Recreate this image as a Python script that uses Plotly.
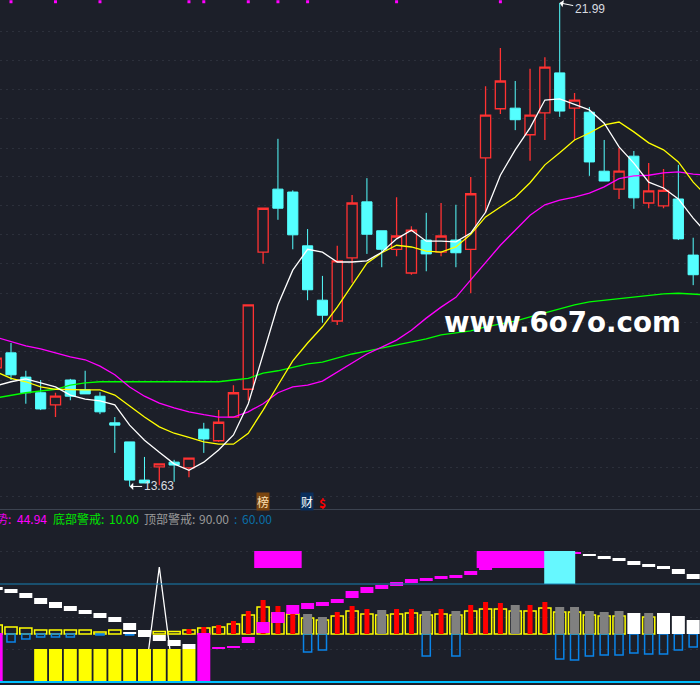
import plotly.graph_objects as go

# main panel: candles, index -1 is only just visible at the left edge
candle_idx = list(range(-1, 47))
opens = [15.68, 15.94, 15.52, 15.25, 15.04, 15.47, 15.30, 15.19, 14.73, 14.40, 13.74, 13.97, 14.05, 13.95, 14.62, 14.42,
         14.83, 15.31, 17.68, 18.77, 18.72, 17.79, 16.85, 16.49, 17.58, 18.55, 18.05, 17.73, 17.32, 17.89, 17.68, 17.89,
         17.73, 19.31, 20.16, 20.17, 19.71, 20.09, 20.78, 20.17, 20.10, 19.08, 18.77, 19.34, 18.53, 18.48, 18.60, 17.63]
closes = [15.85, 15.56, 15.25, 14.97, 15.19, 15.19, 15.23, 14.92, 14.69, 13.74, 13.69, 14.02, 14.00, 14.12, 14.45, 14.74,
          15.25, 16.77, 18.44, 18.44, 17.98, 17.03, 16.59, 17.53, 18.53, 17.99, 17.73, 17.96, 18.06, 17.65, 17.96, 17.67,
          18.69, 20.05, 20.64, 19.97, 20.05, 20.88, 20.12, 20.31, 19.24, 18.91, 19.08, 18.62, 18.74, 18.75, 17.91, 17.29]
highs = [15.85, 16.11, 15.63, 15.47, 15.25, 15.49, 15.63, 15.26, 14.83, 14.40, 14.14, 14.02, 14.09, 14.12, 14.73, 14.95,
         15.38, 16.77, 18.44, 19.64, 18.75, 18.08, 17.27, 17.79, 18.67, 18.96, 18.05, 18.63, 18.13, 18.36, 18.53, 18.50,
         18.98, 20.55, 21.21, 20.64, 20.85, 21.05, 21.99, 20.43, 20.19, 19.62, 19.48, 19.43, 19.22, 19.12, 19.19, 17.93]
lows = [15.68, 15.47, 15.06, 14.95, 14.83, 15.12, 15.23, 14.88, 14.21, 13.63, 13.69, 13.65, 13.71, 13.79, 14.21, 14.40,
        14.83, 15.12, 17.48, 18.24, 17.73, 16.85, 16.46, 16.42, 17.15, 17.65, 17.42, 17.61, 17.29, 17.35, 17.61, 17.42,
        16.97, 18.36, 20.07, 19.79, 19.26, 19.62, 20.02, 19.62, 19.00, 18.91, 18.60, 18.43, 18.44, 18.44, 17.89, 17.11]

# moving averages, one point more than the candles so they run off the right edge
ma_idx = list(range(-1, 48))
ma5 = [15.37, 15.44, 15.49, 15.42, 15.35, 15.21, 15.14, 15.11, 15.04, 14.69, 14.43, 14.22, 14.02, 13.91, 14.05, 14.26, 14.52,
       15.06, 15.90, 16.77, 17.37, 17.73, 17.68, 17.51, 17.51, 17.53, 17.68, 17.91, 18.06, 17.87, 17.87, 17.86, 18.01,
       18.37, 19.01, 19.45, 19.83, 20.31, 20.33, 20.24, 20.14, 19.91, 19.50, 19.22, 18.89, 18.79, 18.60, 18.27, 17.98]
ma10 = [15.61, 15.50, 15.44, 15.35, 15.31, 15.30, 15.30, 15.30, 15.21, 15.02, 14.83, 14.66, 14.55, 14.48, 14.40, 14.36, 14.36,
        14.55, 14.95, 15.38, 15.80, 16.11, 16.39, 16.73, 17.11, 17.49, 17.67, 17.80, 17.77, 17.70, 17.68, 17.77, 17.99,
        18.29, 18.46, 18.63, 18.88, 19.19, 19.40, 19.62, 19.74, 19.88, 19.93, 19.76, 19.57, 19.45, 19.24, 18.89, 18.63]
ma20 = [16.21, 16.13, 16.06, 16.01, 15.94, 15.87, 15.82, 15.71, 15.56, 15.35, 15.19, 15.07, 14.99, 14.92, 14.87, 14.83, 14.83,
        14.92, 15.06, 15.25, 15.35, 15.38, 15.45, 15.61, 15.76, 15.92, 16.04, 16.16, 16.33, 16.54, 16.73, 16.90, 17.20,
        17.51, 17.80, 18.06, 18.32, 18.50, 18.58, 18.63, 18.70, 18.81, 18.95, 19.00, 19.01, 19.05, 19.07, 19.03, 19.01]
ma60 = [15.16, 15.21, 15.25, 15.28, 15.31, 15.38, 15.42, 15.44, 15.44, 15.44, 15.44, 15.44, 15.44, 15.44, 15.44, 15.44, 15.47,
        15.50, 15.59, 15.63, 15.69, 15.75, 15.78, 15.85, 15.92, 15.97, 16.02, 16.08, 16.13, 16.18, 16.25, 16.28, 16.32,
        16.39, 16.44, 16.49, 16.56, 16.63, 16.71, 16.77, 16.82, 16.85, 16.87, 16.90, 16.94, 16.96, 16.97, 16.96, 16.94]

signal_idx = [0, 3, 6, 12, 13, 16, 18, 20, 26, 33]
price_grid = [21.49, 20.99, 20.49, 19.99, 19.48, 18.98, 18.48, 17.98, 17.48, 16.97, 16.47, 15.97, 15.47, 14.97, 14.46, 13.96, 13.46]

# lower panel
hollow_idx = [-1, 0, 1, 2, 3, 4, 5, 6, 7, 10, 11, 12, 13, 14, 15, 16, 17, 18, 19, 20, 21, 22, 23, 24, 25, 26, 27, 28, 29, 30,
              31, 32, 33, 34, 35, 36, 37, 38, 39, 40, 41, 43]
hollow_val = [10.8, 8.4, 7.2, 4.8, 4.8, 4.8, 4.8, 2.4, 4.8, 3, 3, 4.8, 7.2, 8.4, 12, 22.8, 32.4, 25.2, 24, 19.2, 16.8, 21.6,
              27.6, 24, 22.8, 24, 25.2, 22.8, 24, 22.8, 27.6, 30, 30, 27.6, 27.6, 31.2, 26.4, 26.4, 22.8, 21.6, 21.6, 20.4]
red_idx = [12, 13, 14, 15, 16, 17, 18, 19, 22, 23, 24, 26, 27, 29, 31, 32, 33, 35, 36]
red_val = [6, 8.4, 10.8, 15.6, 27.6, 40.8, 33.6, 24, 26.4, 33.6, 30, 30, 30, 30, 34.8, 38.4, 37.2, 34.8, 38.4]
gray_idx = [20, 21, 25, 28, 30, 34, 37, 38, 39, 40, 41, 43]
gray_val = [24, 20.4, 28.8, 27.6, 27.6, 34.8, 32.4, 32.4, 27.6, 26.4, 27.6, 25.2]
white_idx = [8, 42, 44, 45, 46]
white_val = [2.4, 25.2, 25.2, 21.6, 16.8]
blue_idx = [0, 1, 2, 3, 4, 6, 8, 20, 21, 28, 30, 37, 38, 39, 40, 41, 42, 43, 44, 45, 46]
blue_val = [-9.6, -6, -3.6, -3.6, -3.6, -1.2, -1.2, -21.6, -19.2, -26.4, -26.4, -30, -31.2, -26.4, -25.2, -25.2, -22.8, -24, -24, -19.2, -15.6]
low_yellow_idx = [2, 3, 4, 5, 6, 7, 8, 9, 10, 11, 12]
low_magenta_idx = [-1, 13]

trend_w_idx = [-1, 0, 1, 2, 3, 4, 5, 6, 7, 8, 9, 10, 11, 12, 39, 40, 41, 42, 43, 44, 45, 46]
trend_w_top = [56.4, 54, 49.2, 43.2, 38.4, 33.6, 28.8, 25.2, 20.4, 13.2, 4.8, -1.2, -7.2, -12, 96, 93.6, 91.2, 87.6, 84, 81.6, 78, 72]
trend_w_bot = [52.8, 49.2, 43.2, 36, 31.2, 27.6, 24, 19.2, 14.4, 4.8, -3.6, -8.4, -14.4, -18, 93.6, 90, 87.6, 82.8, 80.4, 78, 72, 66]
trend_m_idx = [14, 15, 16, 17, 18, 19, 20, 21, 22, 23, 24, 25, 26, 27, 28, 29, 30, 31, 32, 38]
trend_m_top = [-15.6, -14.4, -3.6, 14.4, 26.4, 34.8, 37.2, 38.4, 42, 51.6, 56.4, 58.8, 62.4, 66, 67.2, 69.6, 70.8, 75.6, 80.4, 98.4]
trend_m_bot = [-18, -16.8, -10.8, 1.2, 13.2, 24, 30, 33.6, 37.2, 43.2, 49.2, 54, 57.6, 61.2, 63.6, 66, 67.2, 70.8, 76.8, 96]
block_idx = [17, 18, 19, 32, 33, 34, 35, 36]

spike_idx = [9, 10, 11]
spike_val = [-57.6, 80.4, -57.6]

floor_val = -57.6
warn_high = 99.6
warn_mid = 79.2
level_line = 60
sub_grid = [99.6, 20.4, -18]

BG = "#1c1f29"
CYAN = "#54ffff"
RED = "#ff3232"
CJK = "Noto Sans CJK SC"
W, H = 700, 685


def bar(x, top, base, color, width, line=None):
    return go.Bar(x=x, y=[t - base for t in top], base=base, width=width, yaxis="y3", xaxis="x2",
                  marker=dict(color=color, line=dict(color=line or color, width=1.5 if line else 0)))


def floating(x, top, bot, color, width=0.877):
    return go.Bar(x=x, y=[t - b for t, b in zip(top, bot)], base=bot, width=width, yaxis="y3", xaxis="x2",
                  marker=dict(color=color, line=dict(width=0)))


fig = go.Figure()
fig.add_trace(go.Candlestick(x=candle_idx, open=opens, high=highs, low=lows, close=closes, whiskerwidth=0,
                             increasing=dict(line=dict(color=RED, width=1.3), fillcolor=BG),
                             decreasing=dict(line=dict(color=CYAN, width=1), fillcolor=CYAN)))
for vals, color in [(ma60, "#00ff00"), (ma20, "#ff00ff"), (ma10, "#ffff00"), (ma5, "#ffffff")]:
    fig.add_trace(go.Scatter(x=ma_idx, y=vals, mode="lines", line=dict(color=color, width=1.3)))
fig.add_trace(go.Scatter(x=signal_idx, y=[22.01] * len(signal_idx), mode="markers", cliponaxis=False,
                         marker=dict(symbol="square", size=3, color="#ff00ff", line=dict(width=0))))

fig.add_trace(go.Scatter(x=spike_idx, y=spike_val, mode="lines", xaxis="x2", yaxis="y2",
                         line=dict(color="#ffffff", width=1.3)))

fig.add_trace(bar(hollow_idx, hollow_val, 0, "rgba(0,0,0,0)", 0.82, line="#ffff00"))
fig.add_trace(bar(blue_idx, blue_val, 0, "rgba(0,0,0,0)", 0.55, line="#0a84e8"))
fig.add_trace(bar(red_idx, red_val, 0, "#ff0000", 0.337))
fig.add_trace(bar(gray_idx, gray_val, 0, "#808080", 0.607))
fig.add_trace(bar(white_idx, white_val, 0, "#ffffff", 0.877))
fig.add_trace(bar(low_yellow_idx, [-18] * len(low_yellow_idx), floor_val, "#ffff00", 0.877))
fig.add_trace(floating(trend_w_idx, trend_w_top, trend_w_bot, "#ffffff"))
fig.add_trace(floating(trend_m_idx, trend_m_top, trend_m_bot, "#ff00ff"))
fig.add_trace(bar(low_magenta_idx, [1.2, 1.2], floor_val, "#ff00ff", 0.877))
fig.add_trace(bar(block_idx, [warn_high] * len(block_idx), warn_mid, "#ff00ff", 1.2))
fig.add_trace(bar([37], [warn_high], level_line, "#66f8ff", 2.09))

xr = [-0.742, 46.46]
split = 176 / H
yr_main = [13.24, 22.04]
yr_sub = [-61.2, 148.8]


def note(text, x, y, color, size=12, **kw):
    return dict(text=text, x=x / W, y=1 - y / H, xref="paper", yref="paper", showarrow=False, xanchor="left",
                yanchor="middle", font=dict(family=CJK, size=size, color=color), **kw)


annotations = [
    note("势:", -6, 518, "#e600e6"),
    note("44.94", 15, 518, "#ff00ff"),
    note("底部警戒:", 51, 518, "#00e600"),
    note("10.00", 107, 518, "#00e600"),
    note("顶部警戒:", 142, 518, "#9a9a9a"),
    note("90.00", 197, 518, "#9a9a9a"),
    note(":", 232, 518, "#0a6fa8"),
    note("60.00", 240, 518, "#0a6fa8"),
    note("榜", 256, 501, "#ffe0b0", bgcolor="#7a4510", borderpad=0),
    note("财", 300, 501, "#ffffff", bgcolor="#0a2f5c", borderpad=0),
    note("<b>$</b>", 317, 502, "#ff0000", size=12),
    dict(text="www.6o7o.com", x=442 / W, y=1 - 322 / H, xref="paper", yref="paper", showarrow=False, xanchor="left",
         yanchor="middle", font=dict(family="DejaVu Sans", size=27.7, color="#ffffff", weight="bold")),
    dict(text="13.63", x=8, y=13.63, xref="x", yref="y", ax=29, ay=0, showarrow=True, arrowhead=1, arrowsize=1.2,
         arrowwidth=1, arrowcolor="#ffffff", font=dict(family="Liberation Sans", size=12, color="#d8dce0")),
    dict(text="21.99", x=37, y=21.99, xref="x", yref="y", ax=30, ay=6, showarrow=True, arrowhead=1, arrowsize=1.2,
         arrowwidth=1, arrowcolor="#ffffff", font=dict(family="Liberation Sans", size=12, color="#d8dce0")),
]

shapes = [
    dict(type="line", xref="paper", yref="paper", x0=0, x1=1, y0=1 - 509.5 / H, y1=1 - 509.5 / H,
         line=dict(color="#3c4350", width=1)),
    dict(type="line", xref="paper", yref="y2", x0=0, x1=1, y0=level_line, y1=level_line,
         line=dict(color="#1681b5", width=1)),
    dict(type="line", xref="paper", yref="y2", x0=0, x1=1, y0=floor_val, y1=floor_val,
         line=dict(color="#00bfff", width=2)),
]

grid = dict(showgrid=True, gridcolor="#2c303b", griddash="2px,4px", gridwidth=1, tickmode="array",
            showticklabels=False, ticks="", zeroline=False, showline=False, fixedrange=True)

fig.update_layout(
    width=W, height=H, margin=dict(l=0, r=0, t=0, b=0), paper_bgcolor=BG, plot_bgcolor=BG,
    showlegend=False, barmode="overlay", boxgap=0.02, hovermode=False,
    annotations=annotations, shapes=shapes,
    xaxis=dict(range=xr, visible=False, rangeslider=dict(visible=False), anchor="y"),
    xaxis2=dict(range=xr, visible=False, anchor="y2"),
    yaxis=dict(domain=[split, 1], range=yr_main, tickvals=price_grid, **grid),
    yaxis2=dict(domain=[0, split - 1 / H], range=yr_sub, tickvals=sub_grid, **grid),
    yaxis3=dict(overlaying="y2", range=yr_sub, visible=False, anchor="x2"),
)

fig.write_html("out.html", config=dict(displayModeBar=False), post_script="document.body.style.margin='0';")
